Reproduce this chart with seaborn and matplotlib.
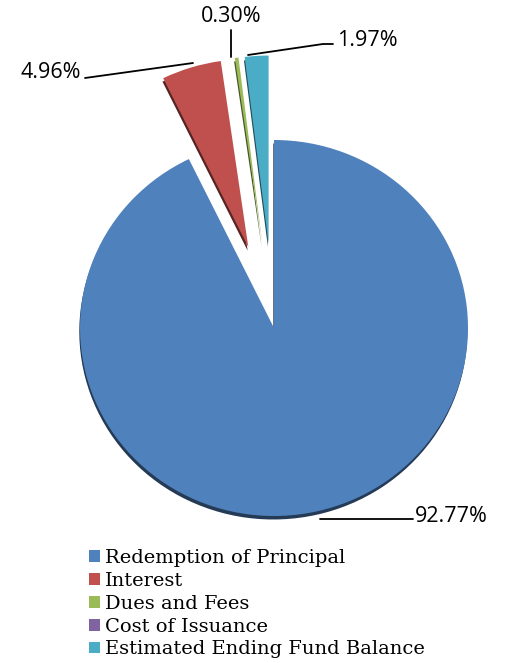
import matplotlib
matplotlib.use("Agg")
import matplotlib.pyplot as plt
import matplotlib.colors as mcolors
import seaborn as sns

# data
categories = ["Redemption of Principal", "Interest", "Dues and Fees",
              "Cost of Issuance", "Estimated Ending Fund Balance"]
shares = [92.77, 4.96, 0.30, 0.00, 1.97]
pct_labels = ["92.77%", "4.96%", "0.30%", "", "1.97%"]

colors = ["#4F81BD", "#C0504D", "#9BBB59", "#8064A2", "#4BACC6"]
explode_frac = [0.0, 0.45, 0.45, 0.45, 0.45]

sns.set_style("white")

W, H = 506, 663
R = 194          # horizontal radius in px
K = 188 / 194    # vertical squash (tilted look)
CX, CY = 274, 328

fig = plt.figure(figsize=(W / 100, H / 100), dpi=100)
ax = fig.add_axes([0, 0, 1, 1])


def to_data(px, py):
    return px, (H - py) / K


# darker copy underneath gives the 3D rim
rim_colors = [tuple(0.45 * v for v in mcolors.to_rgb(c)) for c in colors]
ax.pie(
    shares, colors=rim_colors, startangle=90, counterclock=False,
    explode=[e * R for e in explode_frac], radius=R,
    center=to_data(CX - 0.7, CY + 3.5),
    wedgeprops=dict(linewidth=0),
)
wedges, _ = ax.pie(
    shares, colors=colors, startangle=90, counterclock=False,
    explode=[e * R for e in explode_frac], radius=R,
    center=to_data(CX, CY),
    wedgeprops=dict(linewidth=0),
)
ax.set_aspect("auto")
ax.set_xlim(0, W)
ax.set_ylim(0, H / K)
ax.axis("off")

# leader lines + percent labels (pixel positions from top-left)
lab_font = dict(family="Open Sans", size=15.5, color="black")
line_kw = dict(color="black", lw=1.3)


def seg(points):
    pts = [to_data(*p) for p in points]
    ax.plot([p[0] for p in pts], [p[1] for p in pts], **line_kw)


def label(px, py, s, ha):
    x, y = to_data(px, py)
    ax.text(x, y, s, ha=ha, va="center", **lab_font)


seg([(320, 519), (413, 519)])
label(415, 516, pct_labels[0], "left")

seg([(193, 63), (85, 78)])
label(81, 72, pct_labels[1], "right")

seg([(231, 57), (231, 30)])
label(231, 16, pct_labels[2], "center")

seg([(248, 55), (323, 44), (333, 44)])
label(337, 40, pct_labels[4], "left")

ax.legend(
    wedges, categories, loc="upper left",
    bbox_to_anchor=(89 / W, 1 - 549 / H), frameon=False,
    prop=dict(family="DejaVu Serif", size=14), labelcolor="black",
    handlelength=0.55, handleheight=0.55, handletextpad=0.25,
    labelspacing=0.25, borderpad=0, borderaxespad=0,
)

fig.savefig("out.png", dpi=100)
